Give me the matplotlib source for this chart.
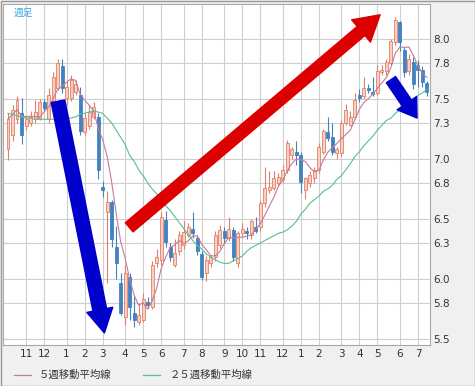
import numpy as np
import pandas as pd
import matplotlib
matplotlib.use("Agg")
import matplotlib.pyplot as plt
from matplotlib.lines import Line2D
from matplotlib.patches import Rectangle

# ------------------------------
# 週足ローソク足 + 移動平均線
# ------------------------------

plt.rcParams['font.family'] = ['Noto Sans CJK JP', 'DejaVu Sans']

# 始値・高値・安値・終値（週足）
opens = [7.08, 7.20, 7.33, 7.38, 7.27, 7.30, 7.33, 7.34, 7.47, 7.33,
         7.48, 7.59, 7.77, 7.51, 7.51, 7.56, 7.53, 7.22, 7.27, 7.35,
         7.35, 6.77, 6.56, 6.64, 6.27, 5.97, 5.68, 6.02, 5.72, 5.64,
         5.66, 5.81, 5.77, 6.13, 6.16, 6.49, 6.27, 6.12, 6.23, 6.28,
         6.37, 6.42, 6.34, 6.21, 6.05, 6.13, 6.18, 6.28, 6.40, 6.34,
         6.41, 6.13, 6.38, 6.40, 6.37, 6.43, 6.43, 6.63, 6.74, 6.76,
         6.80, 6.83, 6.91, 7.03, 7.06, 7.03, 6.74, 6.80, 6.84, 6.91,
         7.06, 7.22, 7.18, 7.05, 7.05, 7.30, 7.28, 7.35, 7.53, 7.52,
         7.59, 7.56, 7.55, 7.72, 7.73, 7.80, 7.97, 8.14, 7.91, 7.73,
         7.81, 7.78, 7.74, 7.63]
highs = [7.38, 7.45, 7.52, 7.51, 7.36, 7.40, 7.49, 7.50, 7.50, 7.59,
         7.72, 7.83, 7.83, 7.65, 7.70, 7.66, 7.60, 7.38, 7.45, 7.47,
         7.38, 6.82, 6.73, 6.66, 6.44, 6.05, 6.12, 6.05, 5.85, 5.80,
         5.88, 5.85, 6.15, 6.25, 6.56, 6.57, 6.30, 6.33, 6.40, 6.48,
         6.47, 6.56, 6.37, 6.23, 6.19, 6.20, 6.40, 6.45, 6.43, 6.52,
         6.43, 6.40, 6.47, 6.43, 6.50, 6.52, 6.66, 6.93, 6.90, 6.90,
         6.88, 6.95, 7.16, 7.10, 7.15, 7.06, 6.85, 6.90, 6.93, 7.13,
         7.25, 7.35, 7.30, 7.10, 7.32, 7.46, 7.40, 7.55, 7.58, 7.68,
         7.62, 7.68, 7.78, 7.78, 7.83, 8.00, 8.18, 8.15, 7.93, 7.87,
         7.85, 7.82, 7.77, 7.65]
lows = [6.99, 7.15, 7.30, 7.12, 7.24, 7.27, 7.30, 7.32, 7.40, 7.30,
        7.45, 7.57, 7.55, 7.45, 7.48, 7.53, 7.20, 7.20, 7.25, 7.33,
        6.83, 6.68, 5.97, 6.27, 6.00, 5.70, 5.62, 5.66, 5.60, 5.62,
        5.64, 5.76, 5.75, 6.10, 6.12, 6.27, 6.15, 6.10, 6.20, 6.25,
        6.35, 6.34, 6.20, 5.99, 5.98, 6.10, 6.15, 6.26, 6.30, 6.32,
        6.15, 6.10, 6.35, 6.33, 6.33, 6.38, 6.40, 6.60, 6.72, 6.74,
        6.78, 6.80, 6.88, 7.00, 6.95, 6.72, 6.67, 6.77, 6.80, 6.88,
        7.04, 7.15, 7.03, 7.00, 7.02, 7.28, 7.27, 7.33, 7.47, 7.50,
        7.55, 7.52, 7.53, 7.70, 7.70, 7.78, 7.95, 7.90, 7.68, 7.70,
        7.58, 7.60, 7.60, 7.52]
closes = [7.33, 7.41, 7.49, 7.20, 7.33, 7.35, 7.39, 7.47, 7.42, 7.53,
          7.68, 7.80, 7.59, 7.60, 7.66, 7.62, 7.23, 7.34, 7.39, 7.43,
          6.91, 6.74, 6.64, 6.33, 6.13, 5.72, 6.05, 5.77, 5.66, 5.70,
          5.83, 5.78, 6.12, 6.18, 6.52, 6.31, 6.18, 6.22, 6.37, 6.39,
          6.43, 6.38, 6.23, 6.02, 6.16, 6.18, 6.37, 6.41, 6.34, 6.42,
          6.18, 6.38, 6.42, 6.38, 6.48, 6.40, 6.63, 6.76, 6.77, 6.84,
          6.85, 6.91, 7.13, 7.08, 7.03, 6.81, 6.84, 6.87, 6.91, 7.10,
          7.23, 7.17, 7.06, 7.08, 7.30, 7.41, 7.35, 7.49, 7.51, 7.59,
          7.57, 7.54, 7.73, 7.74, 7.81, 7.98, 8.16, 7.97, 7.72, 7.83,
          7.62, 7.74, 7.64, 7.56]

# 25週移動平均（チャートから読み取り）
ma25 = [7.38, 7.37, 7.36, 7.35, 7.34, 7.34, 7.33, 7.33, 7.33, 7.33,
        7.33, 7.33, 7.33, 7.34, 7.34, 7.35, 7.37, 7.38, 7.39, 7.40,
        7.39, 7.38, 7.34, 7.30, 7.24, 7.18, 7.12, 7.03, 6.98, 6.91,
        6.86, 6.80, 6.75, 6.71, 6.66, 6.61, 6.57, 6.52, 6.47, 6.42,
        6.37, 6.32, 6.28, 6.25, 6.21, 6.18, 6.16, 6.14, 6.13, 6.13,
        6.15, 6.17, 6.19, 6.23, 6.26, 6.28, 6.30, 6.32, 6.34, 6.36,
        6.38, 6.39, 6.41, 6.44, 6.48, 6.54, 6.58, 6.63, 6.66, 6.69,
        6.73, 6.75, 6.78, 6.83, 6.86, 6.91, 6.96, 7.02, 7.06, 7.11,
        7.15, 7.19, 7.24, 7.28, 7.32, 7.34, 7.38, 7.41, 7.44, 7.48,
        7.50, 7.53, 7.55, 7.58]

# 月の区切り（週番号）と月ラベル
month_weeks = [4, 8, 13, 17, 21, 26, 30, 34, 39, 43, 48, 52, 56, 61, 65, 69, 74, 78, 82, 87, 91]
month_labels = ['11', '12', '1', '2', '3', '4', '5', '6', '7', '8', '9', '10',
                '11', '12', '1', '2', '3', '4', '5', '6', '7']

y_ticks = [8.0, 7.8, 7.5, 7.3, 7.0, 6.8, 6.5, 6.3, 6.0, 5.8, 5.5]

o = np.array(opens)
h = np.array(highs)
l = np.array(lows)
c = np.array(closes)
x = np.arange(len(c))
ma5 = pd.Series(c).rolling(5, min_periods=1).mean()

fig = plt.figure(figsize=(4.75, 3.86), dpi=100)
fig.patch.set_facecolor('#f0f0f0')
W, H = 475, 386
ax = fig.add_axes([3 / W, 41 / H, 427 / W, 341 / H])
ax.set_facecolor('white')

up_edge, up_fill = '#e0806a', '#f9cfc0'
dn_col = '#4282c0'

# ローソク足
for i in x:
    up = c[i] >= o[i]
    col = up_edge if up else dn_col
    ax.vlines(i, l[i], h[i], color=col, linewidth=0.8, zorder=2)
    bottom = min(o[i], c[i])
    height = max(abs(c[i] - o[i]), 0.012)
    ax.bar(i, height, bottom=bottom, width=0.66,
           color=up_fill if up else dn_col, edgecolor=col, linewidth=0.6, zorder=3)

# 移動平均線
ax.plot(x, ma5, color='#c67a9a', linewidth=0.8, zorder=4)
ax.plot(x, ma25, color='#55c093', linewidth=0.8, zorder=4)

# 矢印
def arrow(tail, tip, color, tw, hw, hl):
    ax.annotate('', xy=tip, xytext=tail, zorder=6,
                arrowprops=dict(arrowstyle=f'simple,head_width={hw},head_length={hl},tail_width={tw}',
                                mutation_scale=1, color=color, shrinkA=0, shrinkB=0))

arrow((11.1, 7.48), (21.4, 5.55), '#0000cc', 10, 19, 17)
arrow((26.9, 6.43), (82.6, 8.20), '#dd0000', 8.6, 21, 18)
arrow((85.0, 7.66), (90.8, 7.34), '#0000cc', 8, 17, 13)

ax.set_xlim(-1.11, 93.67)
ax.set_ylim(5.45, 8.29)

ax.set_xticks(month_weeks)
ax.set_xticklabels(month_labels)
ax.set_yticks(y_ticks)
ax.set_yticklabels([f'{v:.1f}' for v in y_ticks])
ax.yaxis.tick_right()
ax.tick_params(axis='both', length=0, labelsize=7.5, colors='#333333',
               labelfontfamily='DejaVu Sans')
ax.tick_params(axis='y', pad=2)
ax.tick_params(axis='x', pad=3)
ax.grid(True, color='#cfcfcf', linewidth=0.8, zorder=0)
ax.set_axisbelow(True)
for s in ax.spines.values():
    s.set_color('#a8a8a8')
    s.set_linewidth(0.8)

# タイトル
fig.text(14 / W, 1 - 13 / H, '週足', color='#3aa6e0', fontsize=7, va='center', ha='left')

# 凡例
ly = 1 - 375 / H
fig.add_artist(Line2D([14 / W, 31 / W], [ly, ly], color='#c67a9a', linewidth=0.9))
fig.text(39 / W, ly, '５週移動平均線', fontsize=7.5, color='#333333', va='center')
fig.add_artist(Line2D([143 / W, 160 / W], [ly, ly], color='#55c093', linewidth=0.9))
fig.text(170 / W, ly, '２５週移動平均線', fontsize=7.5, color='#333333', va='center')

# 外枠
fig.add_artist(Rectangle((0.5 / W, 0.5 / H), 1 - 1 / W, 1 - 1 / H, transform=fig.transFigure,
                         fill=False, edgecolor='#999999', linewidth=1))

plt.savefig('out.png', dpi=100, facecolor=fig.get_facecolor())
